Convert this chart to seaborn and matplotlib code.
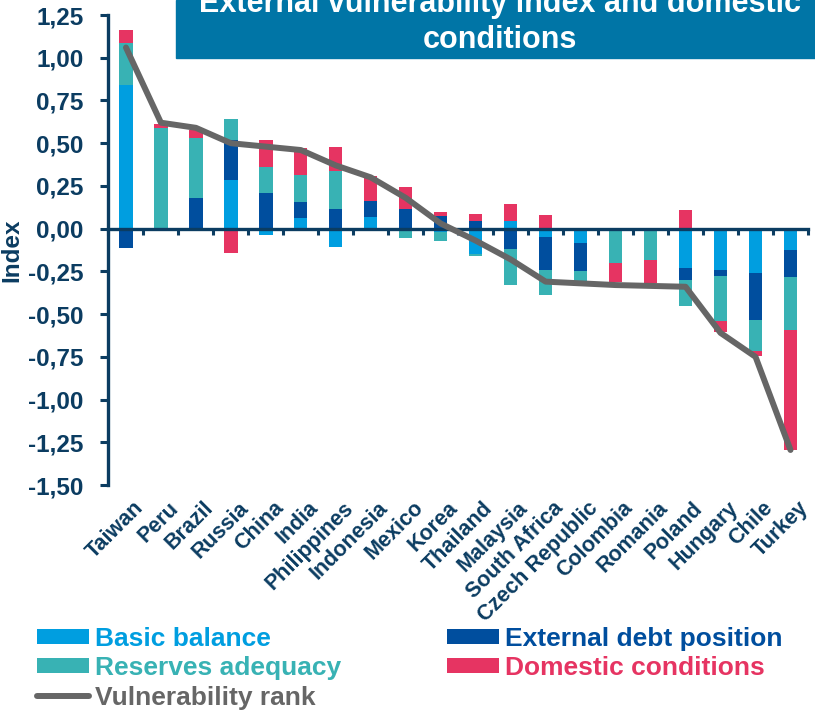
import numpy as np
import seaborn as sns
import matplotlib.pyplot as plt
from matplotlib.patches import Patch, Rectangle
from matplotlib.lines import Line2D

# Data
countries = ['Taiwan', 'Peru', 'Brazil', 'Russia', 'China', 'India', 'Philippines',
             'Indonesia', 'Mexico', 'Korea', 'Thailand', 'Malaysia', 'South Africa',
             'Czech Republic', 'Colombia', 'Romania', 'Poland', 'Hungary', 'Chile', 'Turkey']
basic_balance = [0.84, 0.0, 0.0, 0.285, -0.04, 0.065, -0.11, 0.07, -0.01, -0.02,
                 -0.15, 0.045, -0.047, -0.084, 0.0, 0.0, -0.228, -0.244, -0.26, -0.127]
external_debt = [-0.115, 0.0, 0.18, 0.235, 0.21, 0.09, 0.115, 0.09, 0.115, 0.072,
                 0.043, -0.117, -0.197, -0.166, 0.0, 0.0, -0.071, -0.031, -0.277, -0.156]
reserves = [0.245, 0.59, 0.35, 0.12, 0.15, 0.16, 0.225, -0.015, -0.045, -0.05,
            -0.01, -0.213, -0.146, -0.055, -0.20, -0.186, -0.151, -0.268, -0.178, -0.309]
domestic = [0.08, 0.02, 0.05, -0.14, 0.16, 0.155, 0.14, 0.15, 0.13, 0.024,
            0.045, 0.10, 0.082, 0.0, -0.11, -0.134, 0.107, -0.064, -0.033, -0.703]
vuln_rank = [1.06, 0.62, 0.59, 0.50, 0.48, 0.46, 0.37, 0.30, 0.18, 0.03,
             -0.07, -0.18, -0.31, -0.32, -0.33, -0.335, -0.34, -0.61, -0.75, -1.295]

series = [('Basic balance', basic_balance, '#009EE0'),
          ('External debt position', external_debt, '#004E9E'),
          ('Reserves adequacy', reserves, '#38B2B4'),
          ('Domestic conditions', domestic, '#E63462')]
line_color = '#666666'
navy = '#0B3C61'

sns.set_style('white')
plt.rcParams['font.family'] = ['Liberation Sans', 'DejaVu Sans']
plt.rcParams['font.weight'] = 'bold'

fig = plt.figure(figsize=(8.15, 7.12), dpi=100)
ax = fig.add_axes([0.1331, 0.3188, 0.8583, 0.6601])

# stacked bars: positives stack up, negatives stack down
pos_base = np.zeros(len(countries))
neg_base = np.zeros(len(countries))
for name, vals, col in series:
    v = np.array(vals)
    bottoms = np.where(v >= 0, pos_base, neg_base)
    sns.barplot(x=countries, y=v, bottom=bottoms, color=col, width=0.38,
                saturation=1, errorbar=None, linewidth=0, ax=ax, zorder=2)
    pos_base += np.where(v >= 0, v, 0)
    neg_base += np.where(v < 0, v, 0)

sns.lineplot(x=np.arange(len(countries)), y=vuln_rank, color=line_color, lw=4.3,
             ax=ax, zorder=4, solid_joinstyle='round', solid_capstyle='round')

ax.set_xlim(-0.5, len(countries) - 0.5)
ax.set_ylim(-1.5, 1.25)
yt = np.arange(-1.5, 1.26, 0.25)
ax.set_yticks(yt)
ax.set_yticklabels([f'{t:.2f}'.replace('.', ',') for t in yt], fontsize=17.5,
                   fontweight='bold', color=navy)
ax.set_xticks(np.arange(-0.5, len(countries)))
ax.set_xticklabels([])
ax.tick_params(axis='y', length=6, width=2.2, color=navy, pad=12, direction='out', left=True)
ax.tick_params(axis='x', length=4.5, width=2.2, color=navy, direction='out', bottom=True)
ax.spines['top'].set_visible(False)
ax.spines['right'].set_visible(False)
ax.spines['bottom'].set_position(('data', 0))
ax.spines['bottom'].set_zorder(3)
for s in ['left', 'bottom']:
    ax.spines[s].set_color(navy)
    ax.spines[s].set_linewidth(2.4)
ax.set_xlabel('')
ax.set_ylabel('Index', fontsize=17.5, fontweight='bold', color=navy, labelpad=3)
ax.patch.set_alpha(0)

for i, name in enumerate(countries):
    ax.annotate(name, xy=(i, 0), xycoords=('data', 'axes fraction'),
                xytext=(5, -9), textcoords='offset points', rotation=45,
                rotation_mode='anchor', ha='right', va='top', fontsize=15.5,
                fontweight='bold', color=navy)

# title banner
fig.patches.append(Rectangle((176 / 815, 1 - 58 / 712), 1, 58 / 712,
                             transform=fig.transFigure, color='#0075A6', zorder=5))
fig.text(500 / 815, 1 - 12 / 712, 'External vulnerability index and domestic',
         ha='center', va='baseline', fontsize=22, fontweight='bold', color='white', zorder=6)
fig.text(500 / 815, 1 - 48 / 712, 'conditions',
         ha='center', va='baseline', fontsize=22, fontweight='bold', color='white', zorder=6)

# legend
h = {name: Patch(facecolor=col, edgecolor='none') for name, _, col in series}
handles = [h['Basic balance'], h['Reserves adequacy'],
           Line2D([], [], color=line_color, lw=4.3, solid_capstyle='round'),
           h['External debt position'], h['Domestic conditions']]
labels = ['Basic balance', 'Reserves adequacy', 'Vulnerability rank',
          'External debt position', 'Domestic conditions']
leg = fig.legend(handles, labels, ncol=2, loc='upper left',
                 bbox_to_anchor=(37 / 815, 1 - 627 / 712), frameon=False,
                 prop={'size': 19, 'weight': 'bold'}, borderpad=0, borderaxespad=0,
                 handlelength=1.97, handleheight=0.5, handletextpad=0.23,
                 columnspacing=4.0, labelspacing=0.2)
text_colors = ['#009EE0', '#38B2B4', line_color, '#004E9E', '#E63462']
for t, c in zip(leg.get_texts(), text_colors):
    t.set_color(c)

fig.savefig('out.png', dpi=100)
